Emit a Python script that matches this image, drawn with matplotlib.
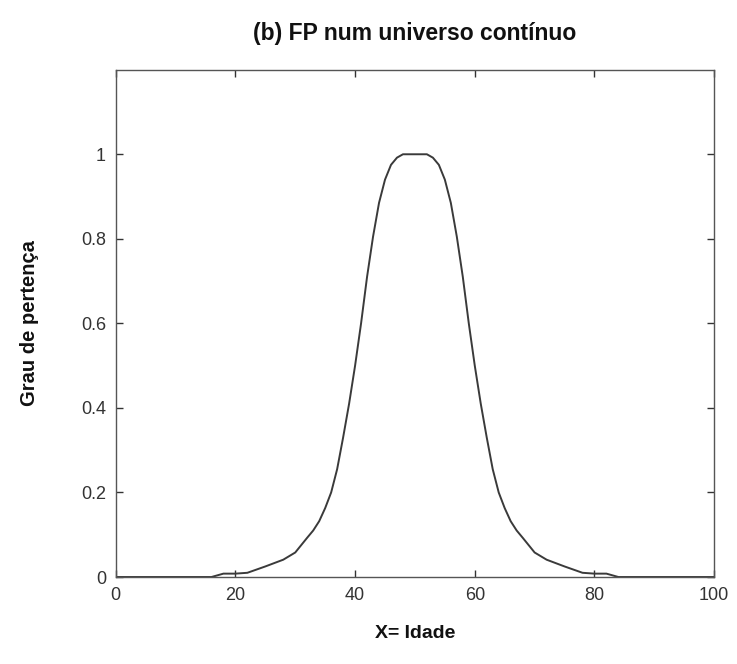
import matplotlib.pyplot as plt
import numpy as np

# membership curve
idade = [0, 10, 16, 18, 20, 22, 25, 28, 30, 32, 33, 34, 35, 36, 37, 38, 39, 40, 41, 42,
         43, 44, 45, 46, 47, 48, 50, 52, 53, 54, 55, 56, 57, 58, 59, 60, 61, 62, 63,
         64, 65, 66, 67, 68, 70, 72, 75, 78, 80, 82, 84, 90, 100]
grau = [0, 0, 0, 0.008, 0.008, 0.01, 0.025, 0.041, 0.058, 0.093, 0.11, 0.132, 0.163,
        0.2, 0.255, 0.33, 0.41, 0.5, 0.6, 0.71, 0.805, 0.885, 0.94, 0.975, 0.992, 1.0,
        1.0, 1.0, 0.992, 0.975, 0.94, 0.885, 0.805, 0.71, 0.6, 0.5, 0.41, 0.33, 0.255,
        0.2, 0.163, 0.132, 0.11, 0.093, 0.058, 0.041, 0.025, 0.01, 0.008, 0.008, 0, 0, 0]

xticks = [0, 20, 40, 60, 80, 100]
yticks = [0, 0.2, 0.4, 0.6, 0.8, 1]
ytick_labels = ['0', '0.2', '0.4', '0.6', '0.8', '1']

plt.rcParams['font.family'] = ['Liberation Sans', 'DejaVu Sans']

fig = plt.figure(figsize=(7.37, 6.64), dpi=100)
ax = fig.add_axes([0.157, 0.131, 0.812, 0.764])

ax.plot(idade, grau, color='#3a3a3a', linewidth=1.4)

ax.set_xlim(0, 100)
ax.set_ylim(0, 1.2)
ax.set_xticks(xticks)
ax.set_yticks(yticks)
ax.set_yticklabels(ytick_labels)
ax.tick_params(direction='in', length=5, width=1, colors='#333333',
               labelsize=13, top=True, right=True, pad=7)
for s in ax.spines.values():
    s.set_color('#555555')
    s.set_linewidth(1.0)

fig.text(0.563, 0.95, '(b) FP num universo contínuo', ha='center', va='center',
         fontsize=16.5, fontweight='bold', color='#111111')
ax.set_xlabel('X= Idade', fontsize=14, fontweight='bold', labelpad=15, color='#111111')
ax.set_ylabel('Grau de pertença', fontsize=14.5, fontweight='bold', labelpad=30,
              color='#111111')

fig.savefig('out.png', dpi=100)
